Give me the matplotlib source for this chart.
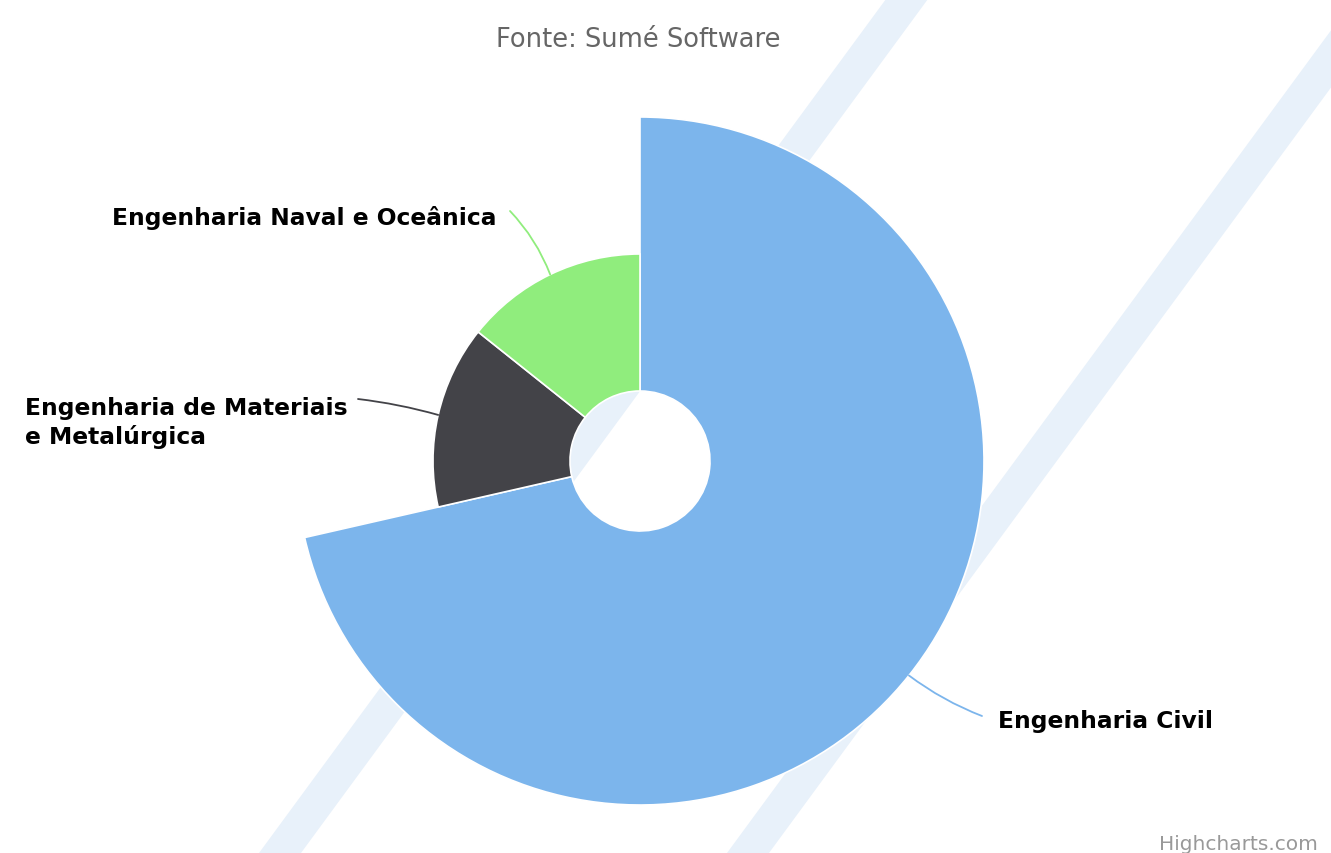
import numpy as np
import matplotlib
matplotlib.use("Agg")
import matplotlib.pyplot as plt
from matplotlib.patches import Wedge, Polygon

# data
categories = ["Engenharia Civil", "Engenharia de Materiais\ne Metalúrgica",
              "Engenharia Naval e Oceânica"]
values = [5, 1, 1]
z_values = [5, 1, 1]
colors = ["#7cb5ec", "#434348", "#90ed7d"]

W, H = 1331, 854
cx, cy = 640, 462
inner_r = 70
min_size, max_size = 207, 344

fig = plt.figure(figsize=(W / 100, H / 100), dpi=100)
ax = fig.add_axes([0, 0, 1, 1])
ax.set_xlim(0, W)
ax.set_ylim(H, 0)
ax.axis("off")

# background diagonal stripes
stripe_c = "#e8f1fa"
for x_bot in [259, 727]:
    w = 42
    dx = 627
    ax.add_patch(Polygon([(x_bot, H), (x_bot + w, H), (x_bot + w + dx, 0), (x_bot + dx, 0)],
                         closed=True, color=stripe_c, lw=0, zorder=0))

# variable pie
total = sum(values)
zmin, zmax = min(z_values), max(z_values)
start = -90.0
mids = []
radii = []
for v, z, col in zip(values, z_values, colors):
    span = 360.0 * v / total
    r = min_size + (z - zmin) / (zmax - zmin) * (max_size - min_size)
    ax.add_patch(Wedge((cx, cy), r, start, start + span, width=r - inner_r,
                       facecolor=col, edgecolor="white", lw=1.2, zorder=2))
    mids.append(np.radians(start + span / 2))
    radii.append(r)
    start += span

# labels with connectors
label_pos = [(998, 722), (25, 423), (497, 218)]
conn_end = [(982, 717), (358, 400), (510, 212)]
aligns = ["left", "left", "right"]
rads = [0.07, 0.04, 0.1]
for i, name in enumerate(categories):
    sx = cx + radii[i] * np.cos(mids[i])
    sy = cy + radii[i] * np.sin(mids[i])
    ax.annotate("", xy=conn_end[i], xytext=(sx, sy),
                arrowprops=dict(arrowstyle="-", color=colors[i], lw=1.3,
                                shrinkA=0, shrinkB=0,
                                connectionstyle=f"arc3,rad={rads[i]}"),
                zorder=3)
    ax.text(label_pos[i][0], label_pos[i][1], name, ha=aligns[i], va="center",
            fontsize=16.8, fontweight="bold", color="#000000",
            linespacing=1.3, zorder=4)

ax.text(638, 40, "Fonte: Sumé Software", ha="center", va="center",
        fontsize=18.5, color="#666666")
ax.text(1318, 845, "Highcharts.com", ha="right", va="center",
        fontsize=14.5, color="#999999")

fig.savefig("out.png", dpi=100)
